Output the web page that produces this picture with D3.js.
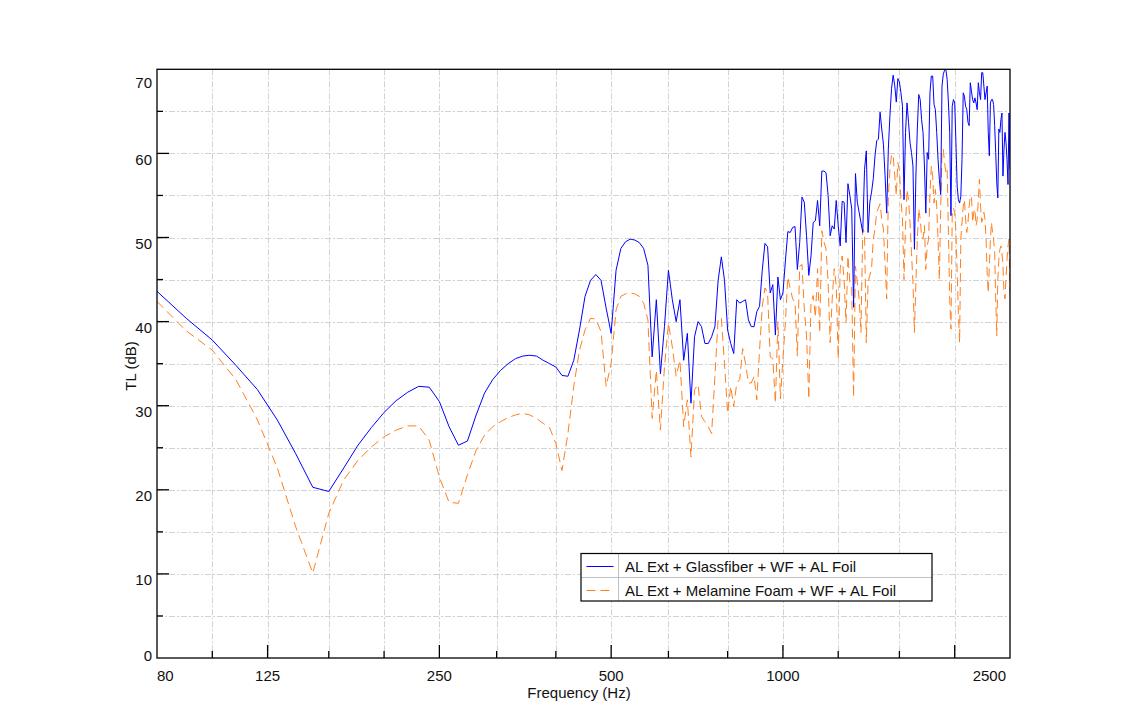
<!DOCTYPE html>
<html><head><meta charset="utf-8">
<script src="https://cdn.jsdelivr.net/npm/d3@7"></script>
<style>body{margin:0;background:#fff;} svg text{font-family:"Liberation Sans",Arial,sans-serif;fill:#111;}</style>
</head><body><svg id="c" width="1122" height="715"></svg>
<script>
const freqs = [80, 90,
 100,110,120,130,140,150,160,170,180,190,
 200,210,220,230,240,250,260,270,280,290,
 300,310,320,330,340,350,360,370,380,390,
 400,410,420,430,440,450,460,470,480,490,
 500,510,520,530,540,550,560,570,580,590,
 600,610,620,630,640,650,660,670,680,690,
 700,710,720,730,740,750,760,770,780,790,
 800,810,820,830,840,850,860,870,880,890,
 900,910,920,930,940,950,960,970,980,990,
 1000,1010,1020,1030,1040,1050,1060,1070,1080,1090,
 1100,1110,1120,1130,1140,1150,1160,1170,1180,1190,
 1200,1210,1220,1230,1240,1250,1260,1270,1280,1290,
 1300,1310,1320,1330,1340,1350,1360,1370,1380,1390,
 1400,1410,1420,1430,1440,1450,1460,1470,1480,1490,
 1500,1510,1520,1530,1540,1550,1560,1570,1580,1590,
 1600,1610,1620,1630,1640,1650,1660,1670,1680,1690,
 1700,1710,1720,1730,1740,1750,1760,1770,1780,1790,
 1800,1810,1820,1830,1840,1850,1860,1870,1880,1890,
 1900,1910,1920,1930,1940,1950,1960,1970,1980,1990,
 2000,2010,2020,2030,2040,2050,2060,2070,2080,2090,
 2100,2110,2120,2130,2140,2150,2160,2170,2180,2190,
 2200,2210,2220,2230,2240,2250,2260,2270,2280,2290,
 2300,2310,2320,2330,2340,2350,2360,2370,2380,2390,
 2400,2410,2420,2430,2440,2450,2460,2470,2480,2490,
 2500];

const tlGlassfiber = [43.6, 40.4,
 37.8, 34.8, 31.9, 28.3, 24.3, 20.3, 19.8, 22.6, 25.3, 27.4,
 29.2, 30.6, 31.6, 32.3, 32.2, 30.5, 27.5, 25.3, 25.8, 28.9,
 31.5, 33.1, 34.2, 35.0, 35.6, 35.9, 36.0, 35.9, 35.4, 35.0,
 34.6, 33.6, 33.5, 35.4, 39.0, 43.0, 44.9, 45.6, 44.9, 41.6,
 38.6, 46.1, 48.7, 49.5, 49.8, 49.7, 49.4, 48.7, 46.7, 35.8,
 42.6, 33.8, 39.4, 46.1, 42.6, 40.0, 42.6, 35.4, 38.6, 30.3,
 38.2, 40.0, 39.4, 37.4, 37.4, 38.2, 39.4, 44.9, 47.7, 44.9,
 39.0, 37.4, 36.2, 42.6, 42.2, 42.4, 42.6, 40.2, 39.4, 39.4,
 41.2, 41.8, 46.1, 49.3, 48.9, 43.4, 44.4, 38.4, 45.3, 42.6,
 43.4, 47.2, 50.7, 50.6, 51.2, 51.3, 46.2, 49.4, 54.8, 54.2,
 50.2, 45.5, 47.8, 51.8, 52.0, 54.4, 51.4, 57.9, 57.9, 57.7,
 55.0, 50.2, 51.4, 51.0, 54.4, 51.4, 49.0, 54.3, 54.2, 49.4,
 56.4, 55.0, 53.4, 41.7, 57.6, 54.2, 53.0, 51.8, 50.6, 58.1,
 60.3, 50.6, 54.2, 55.4, 57.0, 59.7, 61.5, 61.7, 64.9, 62.9,
 61.1, 57.4, 52.9, 60.5, 64.5, 67.7, 69.3, 68.1, 66.1, 68.9,
 68.5, 67.2, 65.6, 54.5, 62.5, 66.0, 63.7, 61.3, 60.1, 58.5,
 48.6, 57.3, 62.9, 67.0, 66.4, 64.0, 62.5, 58.5, 52.9, 60.1,
 59.3, 67.2, 69.2, 69.2, 65.8, 65.2, 62.5, 59.3, 56.9, 55.1,
 68.0, 69.4, 69.9, 70.0, 68.8, 66.0, 62.5, 52.6, 65.6, 66.4,
 66.0, 61.3, 56.1, 54.5, 54.1, 54.9, 59.3, 67.2, 66.8, 65.6,
 65.2, 63.7, 63.3, 68.4, 67.4, 66.4, 66.0, 66.6, 66.0, 65.2,
 68.4, 67.2, 66.4, 69.6, 69.6, 68.0, 66.4, 67.2, 68.0, 62.5,
 59.7, 66.0, 66.4, 66.4, 65.8, 63.3, 60.1, 56.5, 54.7, 62.9,
 62.5, 64.0, 64.8, 57.3, 60.5, 62.5, 61.3, 59.3, 56.3, 64.8,
 58.1];

const tlMelamine = [42.4, 38.9,
 36.6, 33.1, 28.3, 22.6, 15.6, 10.1, 17.2, 21.2, 23.5, 25.1,
 26.3, 27.1, 27.6, 27.6, 25.9, 21.5, 18.5, 18.4, 21.8, 24.7,
 26.5, 27.5, 28.1, 28.6, 28.9, 29.1, 28.9, 28.5, 27.9, 27.4,
 25.5, 22.3, 26.7, 32.3, 36.6, 39.0, 40.4, 40.3, 38.8, 32.3,
 35.0, 41.4, 43.0, 43.3, 43.4, 43.3, 43.0, 42.2, 40.2, 28.5,
 34.2, 27.1, 34.6, 39.8, 37.0, 33.5, 35.4, 27.5, 30.7, 23.9,
 31.9, 32.5, 28.7, 28.1, 27.5, 26.7, 33.5, 40.4, 40.4, 35.0,
 29.1, 32.3, 29.9, 32.7, 33.1, 36.8, 35.0, 32.7, 32.7, 33.5,
 30.7, 36.6, 41.8, 44.0, 43.4, 35.8, 35.6, 30.3, 40.0, 30.8,
 35.6, 39.9, 45.3, 43.9, 42.7, 42.3, 35.9, 46.6, 46.8, 41.5,
 38.3, 30.8, 42.3, 43.1, 40.5, 46.3, 38.7, 50.8, 49.5, 48.6,
 44.7, 37.5, 42.7, 46.3, 44.3, 35.6, 46.3, 47.8, 44.9, 39.9,
 47.8, 44.7, 43.9, 31.0, 46.6, 44.7, 42.7, 38.7, 51.0, 50.6,
 37.5, 44.7, 45.5, 46.3, 49.8, 51.0, 53.0, 53.5, 54.0, 52.2,
 51.0, 47.0, 42.7, 55.0, 58.1, 59.9, 59.7, 57.5, 55.0, 58.9,
 58.0, 54.5, 52.2, 45.0, 51.4, 55.7, 54.5, 51.8, 48.2, 44.6,
 38.7, 44.6, 49.8, 53.4, 52.2, 50.2, 49.8, 51.4, 46.2, 49.0,
 49.8, 55.3, 58.5, 57.3, 54.1, 55.7, 53.7, 49.8, 45.0, 53.4,
 60.1, 60.5, 58.9, 57.7, 58.1, 50.6, 42.7, 39.1, 52.6, 53.5,
 53.0, 50.6, 45.8, 41.1, 37.5, 49.8, 51.8, 53.7, 54.5, 52.2,
 50.6, 51.8, 53.7, 54.9, 54.9, 51.8, 53.0, 53.4, 51.4, 52.2,
 54.5, 56.9, 53.7, 51.8, 52.2, 53.0, 52.2, 49.8, 45.8, 43.4,
 46.6, 49.8, 51.8, 50.6, 49.8, 48.2, 42.7, 38.3, 45.0, 47.4,
 48.6, 49.0, 48.2, 46.6, 43.4, 42.7, 45.0, 47.4, 49.0, 49.8,
 43.4];

const seriesNames = ["AL Ext + Glassfiber + WF + AL Foil", "AL Ext + Melamine Foam + WF + AL Foil"];
const xLabelTicks = [80, 125, 250, 500, 1000, 2500];
const xMajorTicks = [125, 250, 500, 1000, 2000];
const xMinorTicks = [100, 160, 200, 315, 400, 630, 800, 1250, 1600];
const yMajorTicks = [0, 10, 20, 30, 40, 50, 60, 70];
const yMinorTicks = [5, 15, 25, 35, 45, 55, 65];
const xTitle = "Frequency (Hz)";
const yTitle = "TL (dB)";

const L = 157, R = 1010, T = 69.3, B = 658;
const svg = d3.select("#c");
const x = d3.scaleLog().domain([80, 2500]).range([L, R]);
const y = d3.scaleLinear().domain([0, 70]).range([B, T]);

svg.append("defs").append("clipPath").attr("id", "clip")
  .append("rect").attr("x", L).attr("y", T).attr("width", R - L).attr("height", B - T);

// grid
const grid = svg.append("g").attr("stroke", "#d2d2d2").attr("stroke-width", 1)
  .attr("stroke-dasharray", "6,2,2,2").attr("fill", "none");
xMajorTicks.concat(xMinorTicks).forEach(v => {
  const px = Math.round(x(v)) + 0.5;
  grid.append("line").attr("x1", px).attr("x2", px).attr("y1", T).attr("y2", B);
});
yMajorTicks.concat(yMinorTicks).filter(v => v > 0 && v < 70).forEach(v => {
  const py = Math.round(y(v)) + 0.5;
  grid.append("line").attr("x1", L).attr("x2", R).attr("y1", py).attr("y2", py);
});

// series
const lineGen = vals => d3.line().x((d, i) => x(freqs[i])).y(d => y(d))(vals);
const plot = svg.append("g").attr("clip-path", "url(#clip)");
plot.append("path").attr("d", lineGen(tlMelamine)).attr("fill", "none")
  .attr("stroke", "#ff7f1e").attr("stroke-width", 1).attr("stroke-dasharray", "9,5");
plot.append("path").attr("d", lineGen(tlGlassfiber)).attr("fill", "none")
  .attr("stroke", "#0000ff").attr("stroke-width", 1);

// frame
svg.append("rect").attr("x", L).attr("y", T).attr("width", R - L).attr("height", B - T)
  .attr("fill", "none").attr("stroke", "#000").attr("stroke-width", 1.3);

// ticks
const tk = svg.append("g").attr("stroke", "#000").attr("stroke-width", 1.3);
xMajorTicks.forEach(v => tk.append("line").attr("x1", x(v)).attr("x2", x(v)).attr("y1", B).attr("y2", B - 13));
xMinorTicks.forEach(v => tk.append("line").attr("x1", x(v)).attr("x2", x(v)).attr("y1", B).attr("y2", B - 7));
yMajorTicks.filter(v => v > 0 && v < 70).forEach(v => tk.append("line").attr("x1", L).attr("x2", L + 12).attr("y1", y(v)).attr("y2", y(v)));
yMinorTicks.forEach(v => tk.append("line").attr("x1", L).attr("x2", L + 6).attr("y1", y(v)).attr("y2", y(v)));

// tick labels
const fs = 15;
xLabelTicks.forEach((v, i) => {
  const last = i === xLabelTicks.length - 1;
  svg.append("text").attr("x", i === 0 ? x(v) : (last ? x(v) - 4 : x(v)))
    .attr("y", 681).attr("font-size", fs)
    .attr("text-anchor", i === 0 ? "start" : (last ? "end" : "middle")).text(v);
});
yMajorTicks.forEach((v, i) => {
  let yy;
  if (i === 0) yy = y(v) + 3;
  else if (i === yMajorTicks.length - 1) yy = y(v) + 19;
  else yy = y(v) + 11.3;
  svg.append("text").attr("x", 152).attr("y", yy).attr("font-size", fs)
    .attr("text-anchor", "end").text(v);
});

// axis titles
svg.append("text").attr("x", 579).attr("y", 698).attr("font-size", fs)
  .attr("text-anchor", "middle").text(xTitle);
svg.append("text").attr("transform", "translate(135.5,366) rotate(-90)").attr("font-size", fs)
  .attr("text-anchor", "middle").text(yTitle);

// legend
const lg = svg.append("g");
const lx = 581, ly = 553.5, lw = 351, lh = 47.5, rowH = 24;
lg.append("rect").attr("x", lx).attr("y", ly).attr("width", lw).attr("height", lh)
  .attr("fill", "#fff").attr("stroke", "none");
lg.append("line").attr("x1", lx).attr("x2", lx + lw).attr("y1", ly + rowH).attr("y2", ly + rowH)
  .attr("stroke", "#c0c0c0").attr("stroke-width", 1);
lg.append("line").attr("x1", lx + 37.5).attr("x2", lx + 37.5).attr("y1", ly).attr("y2", ly + lh)
  .attr("stroke", "#c0c0c0").attr("stroke-width", 1);
lg.append("rect").attr("x", lx).attr("y", ly).attr("width", lw).attr("height", lh)
  .attr("fill", "none").attr("stroke", "#000").attr("stroke-width", 1.2);
const legendStyles = [{c: "#0000ff", d: null}, {c: "#ff7f1e", d: "9,5"}];
seriesNames.forEach((name, i) => {
  const cy = ly + rowH * i + rowH / 2 + 1;
  const ln = lg.append("line").attr("x1", lx + 5.5).attr("x2", lx + 32.5).attr("y1", cy).attr("y2", cy)
    .attr("stroke", legendStyles[i].c).attr("stroke-width", 1);
  if (legendStyles[i].d) ln.attr("stroke-dasharray", legendStyles[i].d);
  lg.append("text").attr("x", lx + 44).attr("y", cy + 5.5).attr("font-size", fs).text(name);
});
</script></body></html>
